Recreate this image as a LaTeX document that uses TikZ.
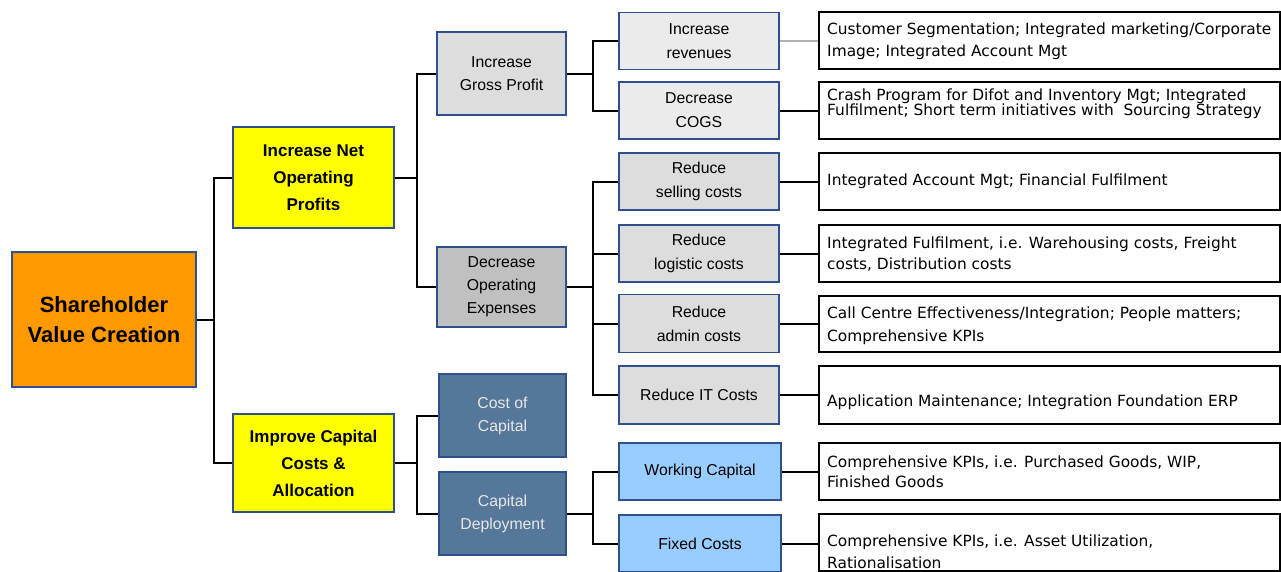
\documentclass[tikz,border=0pt]{standalone}
\usepackage{fontspec}
\setmainfont{Liberation Sans}
\newfontfamily\djv{DejaVu Sans}
\definecolor{bordblue}{HTML}{2F4F8F}
\definecolor{orangebox}{HTML}{FF9900}
\definecolor{yellowbox}{HTML}{FFFF00}
\definecolor{graylight}{HTML}{EBEBEB}
\definecolor{graymid}{HTML}{DDDDDD}
\definecolor{graydark}{HTML}{C0C0C0}
\definecolor{steelbox}{HTML}{557799}
\definecolor{skybox}{HTML}{99CCFF}
\definecolor{steeltext}{HTML}{E8E8E8}
\tikzset{
  base/.style={draw=bordblue, line width=1.8pt, inner sep=0pt, align=center},
  rootbox/.style={base, fill=orangebox, minimum width=184, minimum height=135,
    font=\fontsize{22}{30}\selectfont\bfseries},
  lvlone/.style={base, fill=yellowbox, minimum width=161,
    font=\fontsize{17}{27}\selectfont\bfseries},
  lvltwo/.style={base, minimum width=129, minimum height=82,
    font=\fontsize{15.8}{23}\selectfont},
  lvlthree/.style={base, minimum width=160, minimum height=57,
    font=\fontsize{15.8}{24}\selectfont},
  tbox/.style={draw=black, line width=1.8pt, fill=white, minimum width=461,
    minimum height=57, inner sep=0pt},
  ttext/.style={anchor=west, inner sep=0pt, align=left,
    font=\djv\fontsize{15.4}{22}\selectfont},
  conn/.style={draw=black, line width=2pt},
}
\begin{document}
\begin{tikzpicture}[x=1pt,y=-1pt]
\useasboundingbox (0,0) rectangle (1281,571);

% root
\node[rootbox] (sv) at (104,319.5) {Shareholder\\Value Creation};

% level 1
\node[lvlone, minimum height=101] (inop) at (313.5,177.5) {Increase Net\\Operating\\Profits};
\node[lvlone, minimum height=98] (icca) at (313.5,463) {Improve Capital\\Costs \&\\Allocation};

% level 2
\node[lvltwo, fill=graymid, minimum height=83] (igp) at (501.5,73.5) {Increase\\Gross Profit};
\node[lvltwo, fill=graydark, minimum height=80] (doe) at (501.5,287) {Decrease\\Operating\\Expenses};
\node[lvltwo, fill=steelbox, text=steeltext, minimum width=127, minimum height=83] (coc) at (502.5,415.5) {Cost of\\Capital};
\node[lvltwo, fill=steelbox, text=steeltext, minimum width=127, minimum height=83] (cd) at (502.5,513.5) {Capital\\Deployment};

% level 3
\node[lvlthree, fill=graylight] (ir) at (699,41) {Increase\\revenues};
\node[lvlthree, fill=graylight] (dc) at (699,110.5) {Decrease\\COGS};
\node[lvlthree, fill=graymid] (rs) at (699,181.5) {Reduce\\selling costs};
\node[lvlthree, fill=graymid] (rl) at (699,253.5) {Reduce\\logistic costs};
\node[lvlthree, fill=graymid, minimum height=58] (ra) at (699,323.5) {Reduce\\admin costs};
\node[lvlthree, fill=graymid, minimum height=58] (rit) at (699,395) {Reduce IT Costs};
\node[lvlthree, fill=skybox, minimum width=162] (wc) at (700,471.5) {Working Capital};
\node[lvlthree, fill=skybox, minimum width=162] (fc) at (700,543.5) {Fixed Costs};

% level 4 boxes
\node[tbox] (t1) at (1049.5,40.5) {};
\node[tbox] (t2) at (1049.5,110.5) {};
\node[tbox] (t3) at (1049.5,181.5) {};
\node[tbox] (t4) at (1049.5,253.5) {};
\node[tbox, minimum height=56] (t5) at (1049.5,324) {};
\node[tbox, minimum height=58] (t6) at (1049.5,395) {};
\node[tbox] (t7) at (1049.5,471.5) {};
\node[tbox] (t8) at (1049.5,542.5) {};

% level 4 texts
\node[ttext] (x1) at (827,41.5) {Customer Segmentation; Integrated marketing/Corporate\\Image; Integrated Account Mgt};
\node[ttext, font=\djv\fontsize{15.4}{15}\selectfont] (x2) at (827,104) {Crash Program for Difot and Inventory Mgt; Integrated\\Fulfilment; Short term initiatives with\ \ Sourcing Strategy};
\node[ttext] (x3) at (827,181.5) {Integrated Account Mgt; Financial Fulfilment};
\node[ttext, font=\djv\fontsize{15.4}{21}\selectfont] (x4) at (827,254) {Integrated Fulfilment, i.e. Warehousing costs, Freight\\costs, Distribution costs};
\node[ttext, font=\djv\fontsize{15.4}{23}\selectfont] (x5) at (827,326) {Call Centre Effectiveness/Integration; People matters;\\Comprehensive KPIs};
\node[ttext] (x6) at (827,402.5) {Application Maintenance; Integration Foundation ERP};
\node[ttext, font=\djv\fontsize{15.4}{20}\selectfont] (x7) at (827,471.5) {Comprehensive KPIs, i.e. Purchased Goods, WIP,\\Finished Goods};
\node[ttext] (x8) at (827,551.5) {Comprehensive KPIs, i.e. Asset Utilization,\\Rationalisation};

% bus positions
\coordinate (b1) at (214,0);
\coordinate (b2) at (417,0);
\coordinate (b3) at (593,0);

% connectors level 0 -> 1
\draw[conn] (sv.east) -- (sv.east -| b1);
\draw[conn] (inop.west) -| (b1 |- icca.west) -- (icca.west);

% level 1 -> 2
\draw[conn] (inop.east) -- (inop.east -| b2);
\draw[conn] (igp.west) -| (b2 |- doe.west) -- (doe.west);
\draw[conn] (icca.east) -- (icca.east -| b2);
\draw[conn] (coc.west) -| (b2 |- cd.west) -- (cd.west);

% level 2 -> 3
\draw[conn] (igp.east) -- (igp.east -| b3);
\draw[conn] (ir.west) -| (b3 |- dc.west) -- (dc.west);
\draw[conn] (doe.east) -- (doe.east -| b3);
\draw[conn] (rs.west) -| (b3 |- rit.west) -- (rit.west);
\draw[conn] (rl.west) -- (rl.west -| b3);
\draw[conn] (ra.west) -- (ra.west -| b3);
\draw[conn] (cd.east) -- (cd.east -| b3);
\draw[conn] (wc.west) -| (b3 |- fc.west) -- (fc.west);

% level 3 -> 4
\draw[conn, draw=gray!60, line width=2.4pt] (ir.east) -- (ir.east -| t1.west);
\draw[conn] (dc.east) -- (dc.east -| t2.west);
\draw[conn] (rs.east) -- (rs.east -| t3.west);
\draw[conn] (rl.east) -- (rl.east -| t4.west);
\draw[conn] (ra.east) -- (ra.east -| t5.west);
\draw[conn] (rit.east) -- (rit.east -| t6.west);
\draw[conn] (wc.east) -- (wc.east -| t7.west);
\draw[conn] (fc.east) -- (fc.east -| t8.west);
\end{tikzpicture}
\end{document}
